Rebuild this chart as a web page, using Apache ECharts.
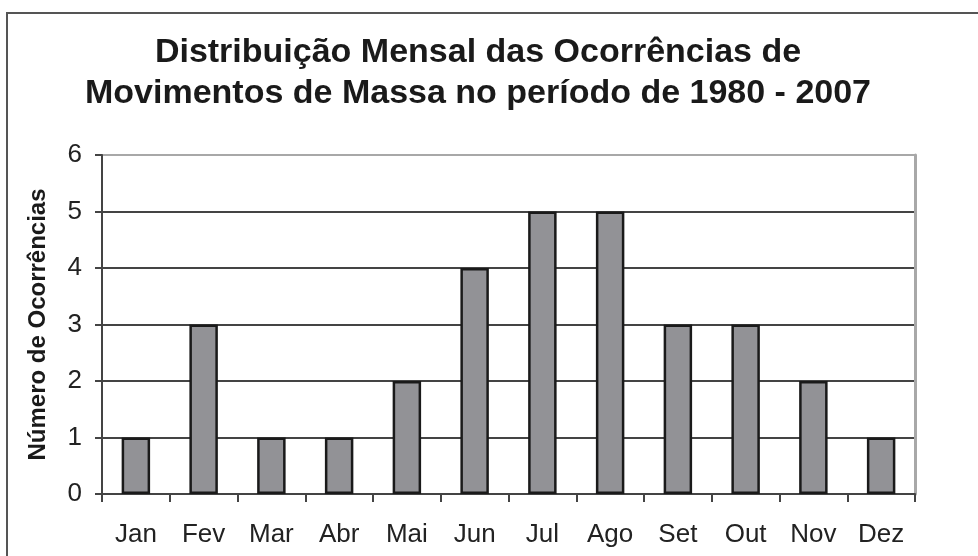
<!DOCTYPE html>
<html lang="pt">
<head>
    <meta charset="UTF-8">
    <title>Distribuição Mensal</title>
    <script src="https://cdn.jsdelivr.net/npm/echarts@6/dist/echarts.min.js"></script>
    <style>
        body { margin: 0; background: #fff; }
        #main { width: 978px; height: 556px; }
    </style>
</head>
<body>
<div id="main"></div>
<script>
    // dados
    const meses = ['Jan', 'Fev', 'Mar', 'Abr', 'Mai', 'Jun', 'Jul', 'Ago', 'Set', 'Out', 'Nov', 'Dez'];
    const ocorrencias = [1, 3, 1, 1, 2, 4, 5, 5, 3, 3, 2, 1];
    const yTicks = [0, 1, 2, 3, 4, 5, 6];

    const fonte = '"Liberation Sans", Arial, sans-serif';
    let myChart = echarts.init(document.getElementById('main'));

    let option = {
        animation: false,
        title: {
            text: 'Distribuição Mensal das Ocorrências de\nMovimentos de Massa no período de 1980 - 2007',
            left: 473,
            top: 27,
            textAlign: 'center',
            textStyle: {
                fontFamily: fonte,
                fontSize: 34,
                fontWeight: 'bold',
                color: '#1a1a1a',
                lineHeight: 41
            }
        },
        grid: {
            left: 102,
            right: 63,
            top: 155,
            bottom: 62
        },
        xAxis: {
            type: 'category',
            data: meses,
            boundaryGap: true,
            axisLine: { lineStyle: { color: '#444', width: 2 } },
            axisTick: { show: true, length: 8, lineStyle: { color: '#444', width: 2 } },
            axisLabel: { margin: 28, fontFamily: fonte, fontSize: 26, color: '#222' }
        },
        yAxis: [
            {
                type: 'value',
                min: yTicks[0],
                max: yTicks[yTicks.length - 1],
                interval: 1,
                name: 'Número de Ocorrências',
                nameLocation: 'middle',
                nameGap: 52,
                nameTextStyle: { fontFamily: fonte, fontSize: 24, fontWeight: 'bold', color: '#1a1a1a' },
                axisLine: { show: true, lineStyle: { color: '#444', width: 2 } },
                axisTick: { show: true, length: 7, lineStyle: { color: '#444', width: 2 } },
                axisLabel: { margin: 20, fontFamily: fonte, fontSize: 26, color: '#222' },
                splitLine: {
                    lineStyle: {
                        color: ['#444', '#444', '#444', '#444', '#444', '#444', '#a8a8a8'],
                        width: 2
                    }
                }
            },
            {
                type: 'value',
                position: 'right',
                min: 0,
                max: 6,
                axisLine: { show: true, lineStyle: { color: '#a8a8a8', width: 3 } },
                axisTick: { show: false },
                axisLabel: { show: false },
                splitLine: { show: false }
            }
        ],
        series: [
            {
                name: 'Ocorrências',
                type: 'bar',
                data: ocorrencias,
                barWidth: '42%',
                itemStyle: {
                    color: '#929296',
                    borderColor: '#1a1a1a',
                    borderWidth: 2.5
                }
            }
        ],
        graphic: [
            {
                type: 'polyline',
                silent: true,
                shape: { points: [[7, 556], [7, 13], [978, 13]] },
                style: { stroke: '#555', lineWidth: 2, fill: null }
            }
        ]
    };
    myChart.setOption(option);
</script>
</body>
</html>
